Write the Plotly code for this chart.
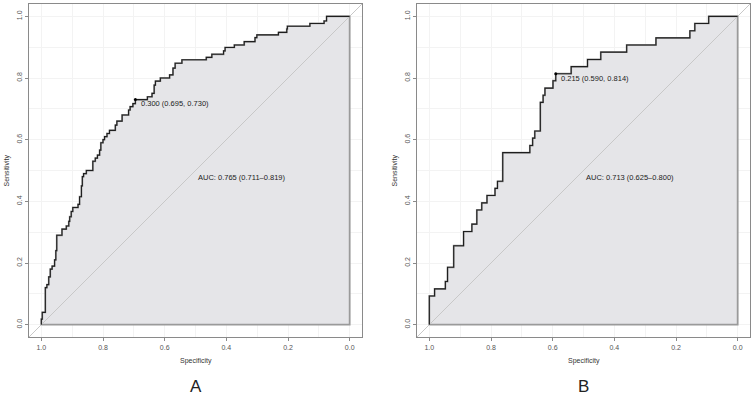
import plotly.graph_objects as go

W, H = 753, 398

# ROC curve A (specificity, sensitivity) - step corners
spec_A = [1.0, 1.0, 0.997, 0.987, 0.982, 0.976, 0.971, 0.965, 0.957, 0.953, 0.950,
          0.933, 0.919, 0.911, 0.908, 0.903, 0.898, 0.881, 0.876, 0.870, 0.867,
          0.863, 0.854, 0.833, 0.825, 0.818, 0.811, 0.807, 0.800, 0.795, 0.787,
          0.779, 0.760, 0.755, 0.738, 0.717, 0.712, 0.703, 0.695, 0.656, 0.641,
          0.634, 0.630, 0.614, 0.584, 0.573, 0.566, 0.544, 0.465, 0.447, 0.409,
          0.404, 0.374, 0.342, 0.307, 0.301, 0.231, 0.204, 0.202, 0.129, 0.083,
          0.075, 0.0]
sens_A = [0.0, 0.018, 0.04, 0.12, 0.13, 0.155, 0.18, 0.19, 0.21, 0.24, 0.29,
          0.31, 0.32, 0.335, 0.35, 0.367, 0.38, 0.39, 0.415, 0.45, 0.48,
          0.49, 0.50, 0.53, 0.54, 0.55, 0.566, 0.59, 0.60, 0.61, 0.62,
          0.63, 0.647, 0.66, 0.68, 0.696, 0.707, 0.717, 0.730, 0.739, 0.750,
          0.777, 0.790, 0.800, 0.810, 0.832, 0.848, 0.859, 0.867, 0.877, 0.888,
          0.899, 0.907, 0.918, 0.931, 0.940, 0.948, 0.959, 0.968, 0.977, 0.985,
          1.0, 1.0]

spec_B = [1.0, 1.0, 0.983, 0.948, 0.941, 0.921, 0.889, 0.862, 0.846, 0.830, 0.813,
          0.787, 0.779, 0.762, 0.674, 0.665, 0.658, 0.640, 0.631, 0.625, 0.599,
          0.590, 0.540, 0.487, 0.444, 0.360, 0.265, 0.155, 0.139, 0.094, 0.0]
sens_B = [0.0, 0.093, 0.116, 0.140, 0.186, 0.256, 0.302, 0.326, 0.372, 0.395, 0.419,
          0.442, 0.465, 0.558, 0.581, 0.605, 0.628, 0.721, 0.744, 0.767, 0.791,
          0.814, 0.837, 0.860, 0.884, 0.907, 0.930, 0.953, 0.977, 1.0, 1.0]

thres_A = {"spec": 0.695, "sens": 0.730, "label": "0.300 (0.695, 0.730)"}
thres_B = {"spec": 0.590, "sens": 0.814, "label": "0.215 (0.590, 0.814)"}
auc_A = "AUC: 0.765 (0.711\u20130.819)"
auc_B = "AUC: 0.713 (0.625\u20130.800)"

tick_vals = [1.0, 0.8, 0.6, 0.4, 0.2, 0.0]
tick_text = ["1.0", "0.8", "0.6", "0.4", "0.2", "0.0"]
panel_labels = ["A", "B"]

FONT = "Liberation Sans, Arial, sans-serif"
FILL = "#e5e5e8"
DIAG = "#c8c8c8"
FRAME = "#8a8a8a"
GRID = "#f3f3f3"

fig = go.Figure()

panels = [
    dict(spec=spec_A, sens=sens_A, thr=thres_A, auc=auc_A, x0=29, x1=362, xs="x", ys="y"),
    dict(spec=spec_B, sens=sens_B, thr=thres_B, auc=auc_B, x0=417, x1=750, xs="x2", ys="y2"),
]
top, bottom = 4, 337

for i, p in enumerate(panels):
    px = list(p["spec"]) + [0.0, 1.0]
    py = list(p["sens"]) + [0.0, 0.0]
    fig.add_trace(go.Scatter(x=px, y=py, mode="lines", line_shape="hv", fill="toself",
                             fillcolor=FILL, line=dict(color="#9a9a9a", width=1.8),
                             xaxis=p["xs"], yaxis=p["ys"], hoverinfo="skip", showlegend=False))
    fig.add_trace(go.Scatter(x=[1.04, -0.04], y=[-0.04, 1.04], mode="lines",
                             line=dict(color=DIAG, width=1), xaxis=p["xs"], yaxis=p["ys"],
                             hoverinfo="skip", showlegend=False))
    fig.add_trace(go.Scatter(x=p["spec"], y=p["sens"], mode="lines", line_shape="hv",
                             line=dict(color="#1e1e1e", width=1.1),
                             xaxis=p["xs"], yaxis=p["ys"], hoverinfo="skip", showlegend=False))
    fig.add_trace(go.Scatter(x=[p["thr"]["spec"]], y=[p["thr"]["sens"]], mode="markers",
                             marker=dict(color="black", size=3),
                             xaxis=p["xs"], yaxis=p["ys"], hoverinfo="skip", showlegend=False))
    fig.add_annotation(x=p["thr"]["spec"] - 0.012, y=p["thr"]["sens"] - 0.014,
                       xref=p["xs"], yref=p["ys"], text=p["thr"]["label"], showarrow=False,
                       xanchor="left", yanchor="middle",
                       font=dict(family=FONT, size=7.5, color="#222"))
    fig.add_annotation(x=0.5, y=0.5, xref=p["xs"], yref=p["ys"], text=p["auc"],
                       showarrow=False, xanchor="left", yanchor="top",
                       font=dict(family=FONT, size=7.5, color="#222"))

    axis_common = dict(showline=True, linecolor=FRAME, linewidth=1.2,
                       mirror=True, ticks="outside", ticklen=3, tickcolor=FRAME,
                       tickwidth=1, tickvals=tick_vals, ticktext=tick_text,
                       tickfont=dict(family=FONT, size=7, color="#555"),
                       showgrid=True, gridcolor=GRID, gridwidth=1,
                       minor=dict(dtick=0.1, showgrid=True, gridcolor=GRID, ticks=""),
                       zeroline=False, fixedrange=True)
    xd = [p["x0"] / W, p["x1"] / W]
    yd = [1 - bottom / H, 1 - top / H]
    xname = "xaxis" if i == 0 else "xaxis2"
    yname = "yaxis" if i == 0 else "yaxis2"
    xa = dict(axis_common); xa.update(range=[1.04, -0.04], domain=xd, anchor=p["ys"])
    ya = dict(axis_common); ya.update(range=[-0.04, 1.04], domain=yd, anchor=p["xs"],
                                      tickangle=-90)
    fig.update_layout(**{xname: xa, yname: ya})

    cx = (p["x0"] + p["x1"]) / 2
    fig.add_annotation(x=cx / W, y=1 - 361 / H, xref="paper", yref="paper",
                       text="Specificity", showarrow=False, xanchor="center", yanchor="middle",
                       font=dict(family=FONT, size=7, color="#333"))
    fig.add_annotation(x=(p["x0"] - 22) / W, y=1 - 170.5 / H, xref="paper", yref="paper",
                       text="Sensitivity", showarrow=False, textangle=-90,
                       xanchor="center", yanchor="middle",
                       font=dict(family=FONT, size=7, color="#333"))
    fig.add_annotation(x=cx / W, y=0, xref="paper", yref="paper",
                       text=panel_labels[i], showarrow=False, xanchor="center",
                       yanchor="bottom", font=dict(family=FONT, size=17, color="#222"))

fig.update_layout(width=W, height=H, margin=dict(l=0, r=0, t=0, b=0),
                  paper_bgcolor="white", plot_bgcolor="white", showlegend=False)

fig.write_html("out.html", config={"displayModeBar": False},
               post_script="document.body.style.margin='0px';document.body.style.overflow='hidden';")
